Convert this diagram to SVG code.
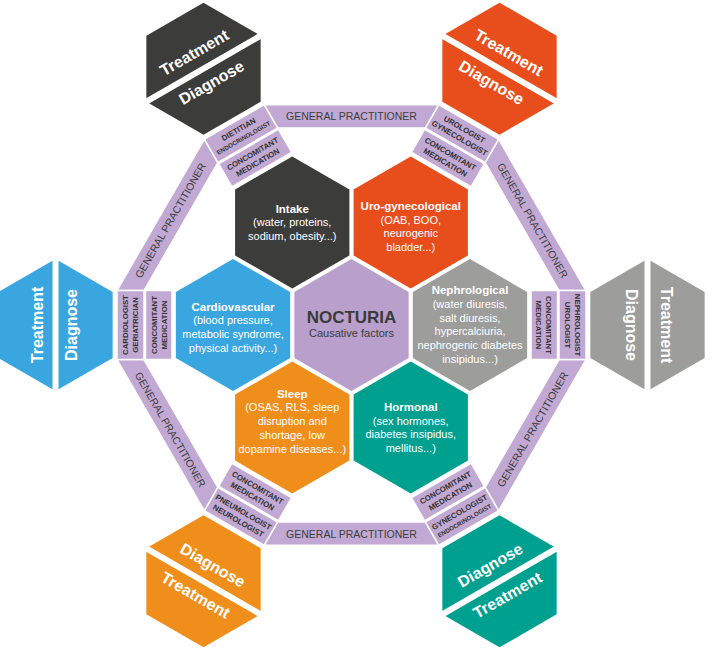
<svg xmlns="http://www.w3.org/2000/svg" xmlns:xlink="http://www.w3.org/1999/xlink" width="712" height="648" viewBox="0 0 712 648">
<style>
text{font-family:"Liberation Sans",Arial,sans-serif;text-anchor:middle}
.title{font-weight:bold;font-size:11.5px;fill:#fff}
.body{font-size:11px;fill:#fff}
.box,.band{fill:#c2a9d3;stroke:#fff;stroke-width:1.5}
.bt{font-size:7.8px;font-weight:bold;fill:#333}
.bs{font-size:6.2px;font-weight:bold;fill:#333}
.gp{font-size:10.5px;fill:#3d3d3d}
.ot{font-size:16px;font-weight:bold;fill:#fff}
.cut{stroke:#fff;stroke-width:6}
</style>
<defs>
<polygon id="hex" points="0,-66 57.16,-33 57.16,33 0,66 -57.16,33 -57.16,-33"/>
</defs>
<rect width="712" height="648" fill="#fff"/>

<g id="connectors">
<polygon class="band" points="117,290.5 204.37,139.17 217.87,162.55 144,290.5"/>
<polygon class="band" points="264.13,104.67 438.87,104.67 425.37,128.05 277.63,128.05"/>
<polygon class="band" points="498.63,139.17 586,290.5 559,290.5 485.13,162.55"/>
<polygon class="band" points="586,359.5 498.63,510.83 485.13,487.45 559,359.5"/>
<polygon class="band" points="438.87,545.33 264.13,545.33 277.63,521.95 425.37,521.95"/>
<polygon class="band" points="204.37,510.83 117,359.5 144,359.5 217.87,487.45"/>
<text class="gp" transform="translate(351.5,115.9)" y="3.7">GENERAL PRACTITIONER</text>
<text class="gp" transform="translate(532.6,220.45) rotate(60)" y="3.7">GENERAL PRACTITIONER</text>
<text class="gp" transform="translate(532.6,429.55) rotate(-60)" y="3.7">GENERAL PRACTITIONER</text>
<text class="gp" transform="translate(351.5,534.1)" y="3.7">GENERAL PRACTITIONER</text>
<text class="gp" transform="translate(170.4,429.55) rotate(60)" y="3.7">GENERAL PRACTITIONER</text>
<text class="gp" transform="translate(170.4,220.45) rotate(-60)" y="3.7">GENERAL PRACTITIONER</text>
</g>

<!-- specialist / medication boxes -->
<g id="box-right-outer" transform="translate(351.5,325) rotate(0)">
<rect class="box" x="207.5" y="-34.5" width="27" height="69"/>
<g transform="translate(221,0) rotate(90)"><text class="bt" y="-2.2">NEPHROLOGIST</text><text class="bt" y="7.8">UROLOGIST</text></g>
</g>
<g id="box-right-inner" transform="translate(351.5,325) rotate(0)">
<rect class="box" x="179.5" y="-34.5" width="26.5" height="69"/>
<g transform="translate(192.75,0) rotate(90)"><text class="bt" y="-2.2">CONCOMITANT</text><text class="bt" y="7.8">MEDICATION</text></g>
</g>
<g id="box-bottomright-outer" transform="translate(351.5,325) rotate(60)">
<rect class="box" x="207.5" y="-34.5" width="27" height="69"/>
<g transform="translate(221,0) rotate(-90)"><text class="bt" y="-2.2">GYNECOLOGIST</text><text class="bs" y="7.2">ENDOCRINOLOGIST</text></g>
</g>
<g id="box-bottomright-inner" transform="translate(351.5,325) rotate(60)">
<rect class="box" x="179.5" y="-34.5" width="26.5" height="69"/>
<g transform="translate(192.75,0) rotate(-90)"><text class="bt" y="-2.2">CONCOMITANT</text><text class="bt" y="7.8">MEDICATION</text></g>
</g>
<g id="box-bottomleft-outer" transform="translate(351.5,325) rotate(120)">
<rect class="box" x="207.5" y="-34.5" width="27" height="69"/>
<g transform="translate(221,0) rotate(-90)"><text class="bt" y="-2.2">PNEUMOLOGIST</text><text class="bt" y="7.8">NEUROLOGIST</text></g>
</g>
<g id="box-bottomleft-inner" transform="translate(351.5,325) rotate(120)">
<rect class="box" x="179.5" y="-34.5" width="26.5" height="69"/>
<g transform="translate(192.75,0) rotate(-90)"><text class="bt" y="-2.2">CONCOMITANT</text><text class="bt" y="7.8">MEDICATION</text></g>
</g>
<g id="box-left-outer" transform="translate(351.5,325) rotate(180)">
<rect class="box" x="207.5" y="-34.5" width="27" height="69"/>
<g transform="translate(221,0) rotate(90)"><text class="bt" y="-2.2">CARDIOLOGIST</text><text class="bt" y="7.8">GERIATRICIAN</text></g>
</g>
<g id="box-left-inner" transform="translate(351.5,325) rotate(180)">
<rect class="box" x="179.5" y="-34.5" width="26.5" height="69"/>
<g transform="translate(192.75,0) rotate(90)"><text class="bt" y="-2.2">CONCOMITANT</text><text class="bt" y="7.8">MEDICATION</text></g>
</g>
<g id="box-topleft-outer" transform="translate(351.5,325) rotate(240)">
<rect class="box" x="207.5" y="-34.5" width="27" height="69"/>
<g transform="translate(221,0) rotate(90)"><text class="bt" y="-2.2">DIETITIAN</text><text class="bs" y="7.2">ENDOCRINOLOGIST</text></g>
</g>
<g id="box-topleft-inner" transform="translate(351.5,325) rotate(240)">
<rect class="box" x="179.5" y="-34.5" width="26.5" height="69"/>
<g transform="translate(192.75,0) rotate(90)"><text class="bt" y="-2.2">CONCOMITANT</text><text class="bt" y="7.8">MEDICATION</text></g>
</g>
<g id="box-topright-outer" transform="translate(351.5,325) rotate(300)">
<rect class="box" x="207.5" y="-34.5" width="27" height="69"/>
<g transform="translate(221,0) rotate(90)"><text class="bt" y="-2.2">UROLOGIST</text><text class="bt" y="7.8">GYNECOLOGIST</text></g>
</g>
<g id="box-topright-inner" transform="translate(351.5,325) rotate(300)">
<rect class="box" x="179.5" y="-34.5" width="26.5" height="69"/>
<g transform="translate(192.75,0) rotate(90)"><text class="bt" y="-2.2">CONCOMITANT</text><text class="bt" y="7.8">MEDICATION</text></g>
</g>

<!-- inner honeycomb -->
<g id="nocturia">
<use xlink:href="#hex" href="#hex" x="351.5" y="325" fill="#b9a0cc"/>
<text x="351.5" y="323.4" style="font-weight:bold;font-size:17px;fill:#3b3b3b">NOCTURIA</text>
<text x="351.5" y="337.3" style="font-size:11px;fill:#3b3b3b">Causative factors</text>
</g>
<g id="intake">
<use xlink:href="#hex" href="#hex" x="292.25" y="222.4" fill="#3c3c3b"/>
<text class="title" x="292.25" y="212.6">Intake</text>
<text class="body" x="292.25" y="226.4">(water, proteins,</text>
<text class="body" x="292.25" y="240.2">sodium, obesity...)</text>
</g>
<g id="uro">
<use xlink:href="#hex" href="#hex" x="410.75" y="222.4" fill="#e84e1c"/>
<text class="title" x="410.75" y="209.7">Uro-gynecological</text>
<text class="body" x="410.75" y="223.5">(OAB, BOO,</text>
<text class="body" x="410.75" y="237.3">neurogenic</text>
<text class="body" x="410.75" y="251.1">bladder...)</text>
</g>
<g id="cardio">
<use xlink:href="#hex" href="#hex" x="233" y="325" fill="#3aa6df"/>
<text class="title" x="233" y="310.5">Cardiovascular</text>
<text class="body" x="233" y="324.3">(blood pressure,</text>
<text class="body" x="233" y="338.1">metabolic syndrome,</text>
<text class="body" x="233" y="351.9">physical activity...)</text>
</g>
<g id="nephro">
<use xlink:href="#hex" href="#hex" x="470" y="325" fill="#9d9d9c"/>
<text class="title" x="470" y="294">Nephrological</text>
<text class="body" x="470" y="307.8">(water diuresis,</text>
<text class="body" x="470" y="321.6">salt diuresis,</text>
<text class="body" x="470" y="335.4">hypercalciuria,</text>
<text class="body" x="470" y="349.2">nephrogenic diabetes</text>
<text class="body" x="470" y="363">insipidus...)</text>
</g>
<g id="sleep">
<use xlink:href="#hex" href="#hex" x="292.25" y="427.6" fill="#ef8e1a"/>
<text class="title" x="292.25" y="397.5">Sleep</text>
<text class="body" x="292.25" y="411.4">(OSAS, RLS, sleep</text>
<text class="body" x="292.25" y="425.3">disruption and</text>
<text class="body" x="292.25" y="439.2">shortage, low</text>
<text class="body" x="292.25" y="453.1">dopamine diseases...)</text>
</g>
<g id="hormonal">
<use xlink:href="#hex" href="#hex" x="410.75" y="427.6" fill="#00a091"/>
<text class="title" x="410.75" y="410.8">Hormonal</text>
<text class="body" x="410.75" y="424.6">(sex hormones,</text>
<text class="body" x="410.75" y="438.4">diabetes insipidus,</text>
<text class="body" x="410.75" y="452.2">mellitus...)</text>
</g>

<!-- outer diagnose / treatment hexagons -->
<g id="outer-topleft" transform="translate(203.5,68.7)">
<use xlink:href="#hex" href="#hex" fill="#3c3c3b"/>
<g transform="rotate(-30)"><line class="cut" x1="-68" y1="0" x2="68" y2="0"/><text class="ot" y="-13">Treatment</text><text class="ot" y="21.5">Diagnose</text></g>
</g>
<g id="outer-topright" transform="translate(499.5,68.7)">
<use xlink:href="#hex" href="#hex" fill="#e84e1c"/>
<g transform="rotate(30)"><line class="cut" x1="-68" y1="0" x2="68" y2="0"/><text class="ot" y="-13">Treatment</text><text class="ot" y="21.5">Diagnose</text></g>
</g>
<g id="outer-left" transform="translate(55.5,325)">
<use xlink:href="#hex" href="#hex" fill="#3aa6df"/>
<g transform="rotate(-90)"><line class="cut" x1="-68" y1="0" x2="68" y2="0"/><text class="ot" y="-13">Treatment</text><text class="ot" y="21.5">Diagnose</text></g>
</g>
<g id="outer-right" transform="translate(647.5,325)">
<use xlink:href="#hex" href="#hex" fill="#9d9d9c"/>
<g transform="rotate(90)"><line class="cut" x1="-68" y1="0" x2="68" y2="0"/><text class="ot" y="-13">Treatment</text><text class="ot" y="21.5">Diagnose</text></g>
</g>
<g id="outer-bottomleft" transform="translate(203.5,581.3)">
<use xlink:href="#hex" href="#hex" fill="#ef8e1a"/>
<g transform="rotate(30)"><line class="cut" x1="-68" y1="0" x2="68" y2="0"/><text class="ot" y="-13">Diagnose</text><text class="ot" y="21.5">Treatment</text></g>
</g>
<g id="outer-bottomright" transform="translate(499.5,581.3)">
<use xlink:href="#hex" href="#hex" fill="#00a091"/>
<g transform="rotate(-30)"><line class="cut" x1="-68" y1="0" x2="68" y2="0"/><text class="ot" y="-13">Diagnose</text><text class="ot" y="21.5">Treatment</text></g>
</g>
</svg>
